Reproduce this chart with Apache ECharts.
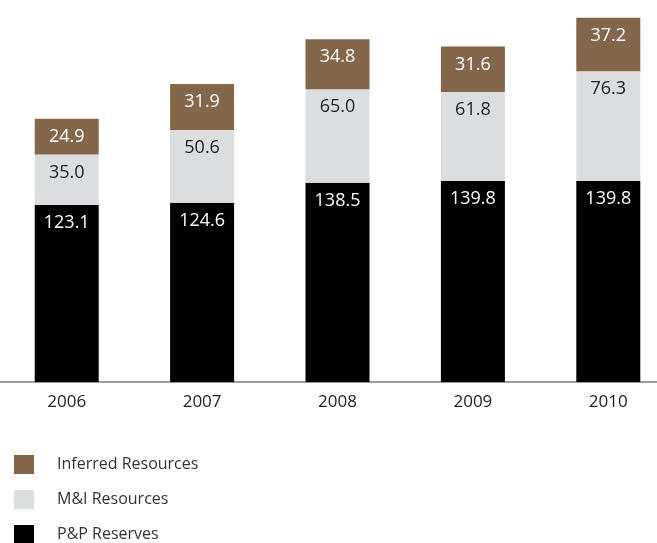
<!DOCTYPE html>
<html>
<head>
<meta charset="utf-8">
<script src="https://cdn.jsdelivr.net/npm/echarts@6/dist/echarts.min.js"></script>
<style>
  html, body { margin: 0; padding: 0; background: #fff; }
  #chart { width: 657px; height: 543px; }
</style>
</head>
<body>
<div id="chart"></div>
<script>
// Reserves and resources by year (stacked bottom to top)
const years = ['2006', '2007', '2008', '2009', '2010'];
const ppReserves = [123.1, 124.6, 138.5, 139.8, 139.8];
const miResources = [35.0, 50.6, 65.0, 61.8, 76.3];
const inferredResources = [24.9, 31.9, 34.8, 31.6, 37.2];
const legendNames = ['Inferred Resources', 'M&I Resources', 'P&P Reserves'];

const FONT = '"Open Sans", sans-serif';

function segmentLabel(color) {
  return {
    show: true,
    position: 'insideTop',
    distance: 9,
    color: color,
    fontFamily: FONT,
    fontSize: 18,
    formatter: p => p.value.toFixed(1)
  };
}

// one legend block per entry so the stacked key keeps its spacing
const legends = legendNames.map((name, i) => ({
  orient: 'vertical',
  left: 14,
  top: 455 + i * 35,
  itemWidth: 20,
  itemHeight: 19,
  icon: 'rect',
  selectedMode: false,
  data: [name],
  padding: 0,
  textStyle: { fontFamily: FONT, fontSize: 16, color: '#333', padding: [0, 0, 0, 18] }
}));

const chart = echarts.init(document.getElementById('chart'), null, { renderer: 'canvas' });
chart.setOption({
  animation: false,
  textStyle: { fontFamily: FONT },
  grid: { left: -1, width: 677, top: 8, bottom: 161, containLabel: false, outerBoundsMode: 'none' },
  legend: legends,
  xAxis: {
    type: 'category',
    data: years,
    axisLine: { show: true, lineStyle: { color: '#7a7a7a', width: 1.5 } },
    axisTick: { show: false },
    axisLabel: { color: '#222', fontFamily: FONT, fontSize: 17, margin: 12 }
  },
  yAxis: {
    type: 'value',
    min: 0,
    max: 260,
    show: false,
    splitLine: { show: false }
  },
  series: [
    {
      name: 'P&P Reserves', type: 'bar', stack: 'total', barWidth: 64,
      itemStyle: { color: '#000000' },
      label: segmentLabel('#ffffff'),
      data: ppReserves
    },
    {
      name: 'M&I Resources', type: 'bar', stack: 'total', barWidth: 64,
      itemStyle: { color: '#dcdddf' },
      label: segmentLabel('#222222'),
      data: miResources
    },
    {
      name: 'Inferred Resources', type: 'bar', stack: 'total', barWidth: 64,
      itemStyle: { color: '#84664b' },
      label: segmentLabel('#ffffff'),
      data: inferredResources
    }
  ]
});
</script>
</body>
</html>
